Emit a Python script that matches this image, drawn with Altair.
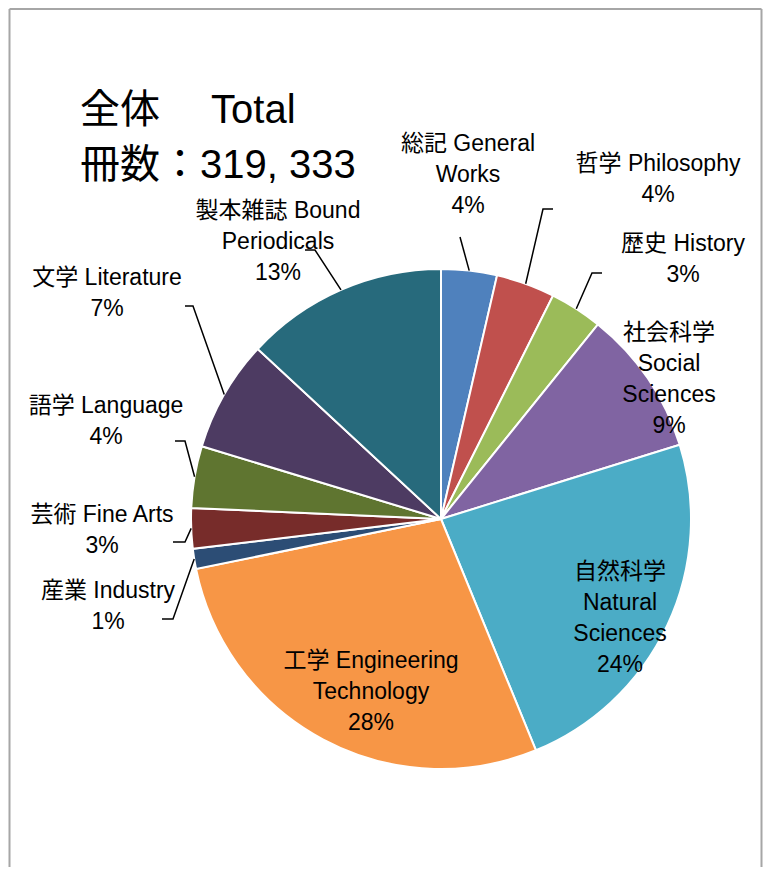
import math
import altair as alt
import pandas as pd

# ---------------- data ----------------
categories_ja = ["総記", "哲学", "歴史", "社会科学", "自然科学", "工学",
                 "産業", "芸術", "語学", "文学", "製本雑誌"]
categories_en = ["General Works", "Philosophy", "History", "Social Sciences",
                 "Natural Sciences", "Engineering Technology", "Industry",
                 "Fine Arts", "Language", "Literature", "Bound Periodicals"]
shares = [3.6, 3.8, 3.4, 9.4, 23.6, 28.0, 1.3, 2.6, 4.0, 7.2, 13.1]
colors = ["#4F81BD", "#C0504D", "#9BBB59", "#8064A2", "#4BACC6", "#F79646",
          "#2C4D75", "#772C2A", "#5F7530", "#4D3B62", "#276A7C"]
title_lines = ["全体　 Total", "冊数：319, 333"]

# label text, broken into lines as in the reference (percent line appended)
label_lines = [
    ["総記 General", "Works"],
    ["哲学 Philosophy"],
    ["歴史 History"],
    ["社会科学", "Social", "Sciences"],
    ["自然科学", "Natural", "Sciences"],
    ["工学 Engineering", "Technology"],
    ["産業 Industry"],
    ["芸術 Fine Arts"],
    ["語学 Language"],
    ["文学 Literature"],
    ["製本雑誌 Bound", "Periodicals"],
]

# ---------------- layout (page pixels) ----------------
OFF = 8
W, H = 755, 859
CX, CY, R = 441 - OFF, 519 - OFF, 250
FONT = "Liberation Sans, Noto Sans CJK JP, sans-serif"
LINE_H = 31
label_anchor = [(468, 144), (658, 164), (683, 244), (669, 333), (620, 572),
                (371, 661), (108, 591), (102, 515), (106, 406), (107, 278),
                (278, 211)]
leader_tail = {
    0: [(460, 237)],
    1: [(543, 209), (553, 209)],
    2: [(592, 273), (602, 273)],
    10: [(315, 250), (305, 250)],
    9: [(193, 306), (185, 306)],
    8: [(185, 441), (175, 441)],
    7: [(185, 542), (173, 542)],
    6: [(173, 619), (162, 619)],
}

# ---------------- tables ----------------
pie_df = pd.DataFrame({
    "idx": list(range(len(shares))),
    "cat": [f"{j} {e}" for j, e in zip(categories_ja, categories_en)],
    "share": shares,
})

total = sum(shares)
cum = 0.0
mid_angle = []
for v in shares:
    mid_angle.append(2 * math.pi * (cum + v / 2) / total)
    cum += v

line_rows = []
for i, tail in leader_tail.items():
    a = mid_angle[i]
    pts = [(CX + R * math.sin(a), CY - R * math.cos(a))]
    pts += [(x - OFF, y - OFF) for x, y in tail]
    for k, (x, y) in enumerate(pts):
        line_rows.append({"lid": i, "pt": k, "x": x, "y": y})
line_df = pd.DataFrame(line_rows)

text_rows = []
for i, lines in enumerate(label_lines):
    full = lines + [f"{round(shares[i])}%"]
    ax, ay = label_anchor[i]
    for k, t in enumerate(full):
        text_rows.append({"x": ax - OFF, "y": ay - OFF + k * LINE_H, "text": t})
text_df = pd.DataFrame(text_rows)

title_df = pd.DataFrame({"x": [80 - OFF, 80 - OFF],
                         "y": [111 - OFF, 166 - OFF],
                         "text": title_lines})

frame_df = pd.DataFrame({"x": [1.5, 1.5, 753.5], "y": [1, 1, 1],
                         "x2": [1.5, 753.5, 753.5], "y2": [H, 1, H]})

xs = alt.Scale(domain=[0, W], nice=False, zero=False)
ys = alt.Scale(domain=[0, H], nice=False, zero=False, reverse=True)

frame = alt.Chart(frame_df).mark_rule(color="#A6A6A6", strokeWidth=2).encode(
    x=alt.X("x:Q", scale=xs, axis=None),
    y=alt.Y("y:Q", scale=ys, axis=None),
    x2="x2:Q", y2="y2:Q")

pie = alt.Chart(pie_df).mark_arc(outerRadius=R, stroke="white", strokeWidth=2).encode(
    theta=alt.Theta("share:Q", stack=True),
    color=alt.Color("cat:N", scale=alt.Scale(domain=list(pie_df["cat"]), range=colors),
                    legend=None),
    order=alt.Order("idx:Q"),
    x=alt.value(CX), y=alt.value(CY))

lines = alt.Chart(line_df).mark_line(color="black", strokeWidth=1.5).encode(
    x=alt.X("x:Q", scale=xs, axis=None),
    y=alt.Y("y:Q", scale=ys, axis=None),
    detail="lid:N", order="pt:Q")

labels = alt.Chart(text_df).mark_text(font=FONT, fontSize=23, align="center",
                                      baseline="middle", color="black").encode(
    x=alt.X("x:Q", scale=xs, axis=None),
    y=alt.Y("y:Q", scale=ys, axis=None),
    text="text:N")

title = alt.Chart(title_df).mark_text(font=FONT, fontSize=40, align="left",
                                      baseline="middle", color="black").encode(
    x=alt.X("x:Q", scale=xs, axis=None),
    y=alt.Y("y:Q", scale=ys, axis=None),
    text="text:N")

chart = alt.layer(frame, pie, lines, labels, title).properties(
    width=W, height=H, padding=0,
    autosize=alt.AutoSizeParams(type="none"),
).configure_view(stroke=None)

chart.save("out.html", embed_options={"renderer": "svg", "actions": False})
